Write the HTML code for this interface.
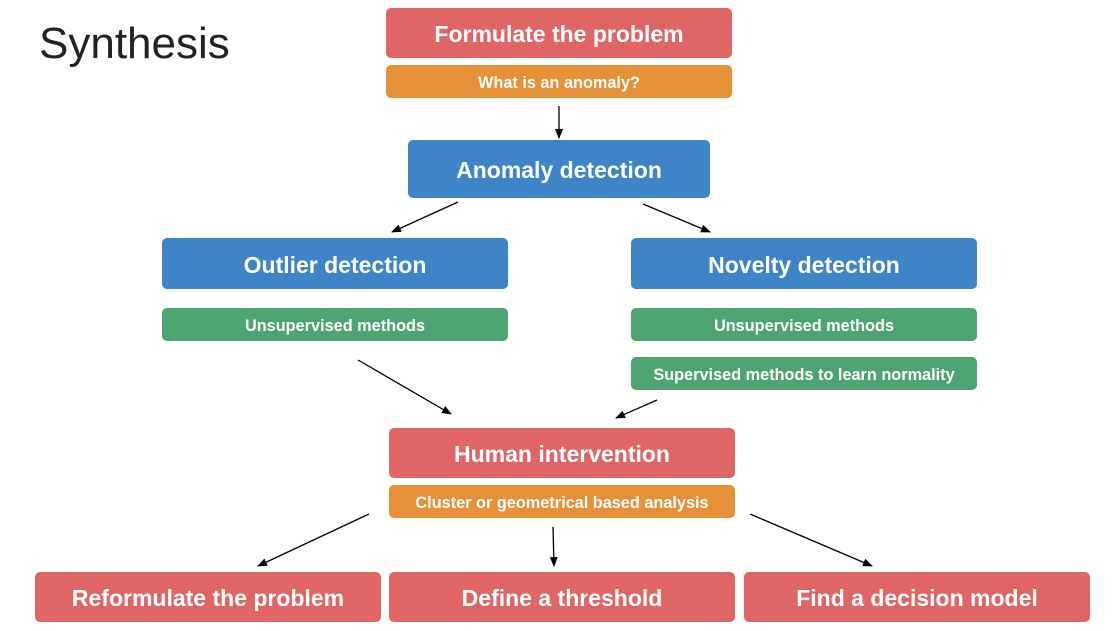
<!DOCTYPE html>
<html><head><meta charset="utf-8"><style>
body{margin:0;width:1118px;height:631px;background:#fff;position:relative;overflow:hidden;font-family:"Liberation Sans",sans-serif}
.b{position:absolute;color:#fff;font-weight:bold;display:flex;align-items:center;justify-content:center;border-radius:5px;box-sizing:border-box;padding-top:3px}
.r{background:#e06666}.o{background:#e69138}.bl{background:#3d85c6}.g{background:#4ea373}
.big{font-size:23px}.sm{font-size:16.3px}
</style></head><body>
<div style="position:absolute;left:39px;top:19px;font-size:44px;color:#222;font-family:'Liberation Sans',sans-serif">Synthesis</div>
<div class="b r big" style="left:386px;top:8px;width:346px;height:50px">Formulate the problem</div>
<div class="b o sm" style="left:386px;top:65px;width:346px;height:33px">What is an anomaly?</div>
<div class="b bl big" style="left:408px;top:140px;width:302px;height:58px">Anomaly detection</div>
<div class="b bl big" style="left:162px;top:238px;width:346px;height:51px">Outlier detection</div>
<div class="b bl big" style="left:631px;top:238px;width:346px;height:51px">Novelty detection</div>
<div class="b g sm" style="left:162px;top:308px;width:346px;height:33px">Unsupervised methods</div>
<div class="b g sm" style="left:631px;top:308px;width:346px;height:33px">Unsupervised methods</div>
<div class="b g sm" style="left:631px;top:357px;width:346px;height:33px">Supervised methods to learn normality</div>
<div class="b r big" style="left:389px;top:428px;width:346px;height:50px">Human intervention</div>
<div class="b o sm" style="left:389px;top:485px;width:346px;height:33px">Cluster or geometrical based analysis</div>
<div class="b r big" style="left:35px;top:572px;width:346px;height:50px">Reformulate the problem</div>
<div class="b r big" style="left:389px;top:572px;width:346px;height:50px">Define a threshold</div>
<div class="b r big" style="left:744px;top:572px;width:346px;height:50px">Find a decision model</div>
<svg width="1118" height="631" style="position:absolute;left:0;top:0">
<defs><marker id="a" markerWidth="10" markerHeight="8" refX="9" refY="4" orient="auto" markerUnits="userSpaceOnUse"><path d="M0,0L10,4L0,8z" fill="#000"/></marker></defs>
<g stroke="#000" stroke-width="1.3" marker-end="url(#a)">
<line x1="559" y1="106" x2="559" y2="138"/>
<line x1="458" y1="202" x2="392" y2="232"/>
<line x1="643" y1="204" x2="710" y2="232"/>
<line x1="358" y1="360" x2="451" y2="414"/>
<line x1="657" y1="400" x2="616" y2="418"/>
<line x1="369" y1="514" x2="258" y2="566"/>
<line x1="553" y1="527" x2="554" y2="566"/>
<line x1="750" y1="514" x2="872" y2="566"/>
</g></svg>
</body></html>
